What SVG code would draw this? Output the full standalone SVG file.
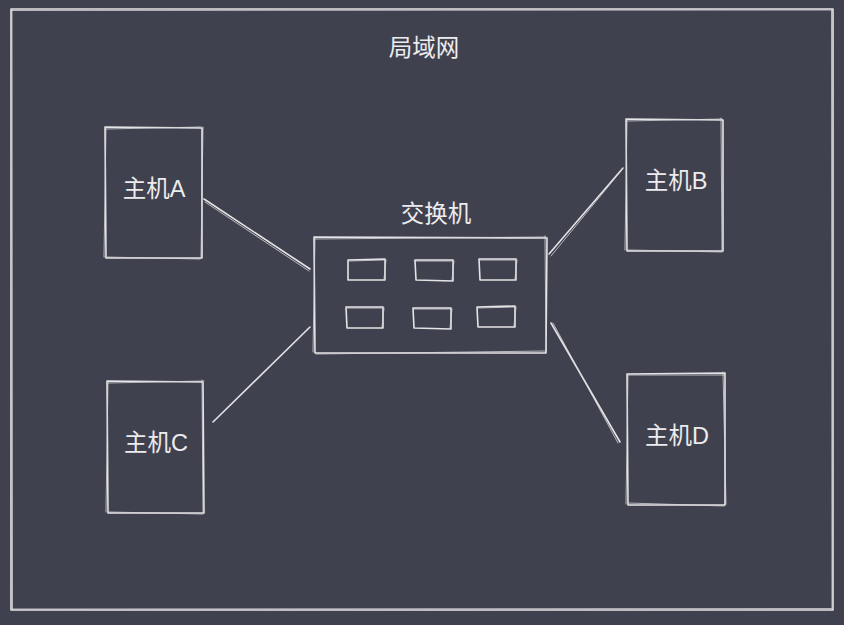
<svg xmlns="http://www.w3.org/2000/svg" width="844" height="625" viewBox="0 0 844 625">
<style>
.s{fill:none;stroke:#e4e4e6;stroke-width:1.6;stroke-linecap:round;stroke-linejoin:round}
.s2{fill:none;stroke:#d6d6da;stroke-width:1;stroke-linecap:round;opacity:0.8}
.t{font-family:"Liberation Sans","Noto Sans CJK SC",sans-serif;font-size:23.5px;fill:#ececee;text-anchor:middle;dominant-baseline:central}
</style>
<rect width="844" height="625" fill="#40414e"/>
<g id="lan">
<path class="s" d="M11 9 L833 9 L833 610 L11 610 Z"/>
<path class="s2" d="M12 10.5 L832 10 M831.5 10 L832 609 M832 608.5 L12 609 M12.5 609 L12 10"/>
<text class="t" x="424" y="48">局域网</text>
</g>
<g id="hostA">
<path class="s" d="M105 127 L202 128 L202 258 L106 258 Z"/>
<path class="s2" d="M106 129 L201 127 M203 127 L201 257 M200 259 L105 257 M104 257 L106 127"/>
<text class="t" x="154" y="189">主机A</text>
</g>
<g id="hostB">
<path class="s" d="M626 119 L723 120 L723 251 L627 251 Z"/>
<path class="s2" d="M627 121 L722 119 M721 118 L722 250 M722 252 L628 250 M625 250 L627 120"/>
<text class="t" x="676" y="181">主机B</text>
</g>
<g id="hostC">
<path class="s" d="M107 381 L203 382 L204 513 L108 513 Z"/>
<path class="s2" d="M108 383 L204 381 M202 380 L203 512 M203 514 L108 512 M106 512 L108 382"/>
<text class="t" x="156" y="443">主机C</text>
</g>
<g id="hostD">
<path class="s" d="M627 374 L725 373 L725 505 L628 505 Z"/>
<path class="s2" d="M628 375 L724 375 M723 372 L726 504 M724 506 L628 503 M626 504 L628 374"/>
<text class="t" x="677" y="436">主机D</text>
</g>
<g id="switch">
<text class="t" x="436" y="214">交换机</text>
<path class="s" d="M314 237 L547 238 L546 353 L315 353 Z"/>
<path class="s2" d="M315 239 L546 237 M545 236 L546 352 M546 351 L316 354 M313 352 L315 238"/>
<path class="s" d="M348 260 L385 259 L385 280 L348 280 Z"/>
<path class="s" d="M415 260 L453 260 L453 281 L416 280 Z"/>
<path class="s" d="M479 259 L516 259 L516 280 L480 280 Z"/>
<path class="s" d="M346 307 L383 307 L383 328 L347 328 Z"/>
<path class="s" d="M413 308 L451 308 L451 329 L414 328 Z"/>
<path class="s" d="M477 307 L515 306 L515 327 L478 327 Z"/>
<path class="s2" d="M349 261 L384 260 M386 260 L384 279 M414 261 L452 261 M454 261 L452 280 M480 260 L515 260 M517 260 L515 279 M347 308 L382 308 M384 308 L382 327 M414 309 L450 309 M452 309 L450 328 M478 308 L514 307 M516 307 L514 326"/>
</g>
<g id="connectors">
<path class="s" d="M204 199 L310 269"/>
<path class="s2" d="M205 202 L309 271"/>
<path class="s" d="M213 422 L310 327"/>
<path class="s" d="M549 254 L623 168"/>
<path class="s2" d="M551 256 L621 171"/>
<path class="s" d="M551 323 L620 442"/>
<path class="s2" d="M553 323 L618 443"/>
</g>
</svg>
